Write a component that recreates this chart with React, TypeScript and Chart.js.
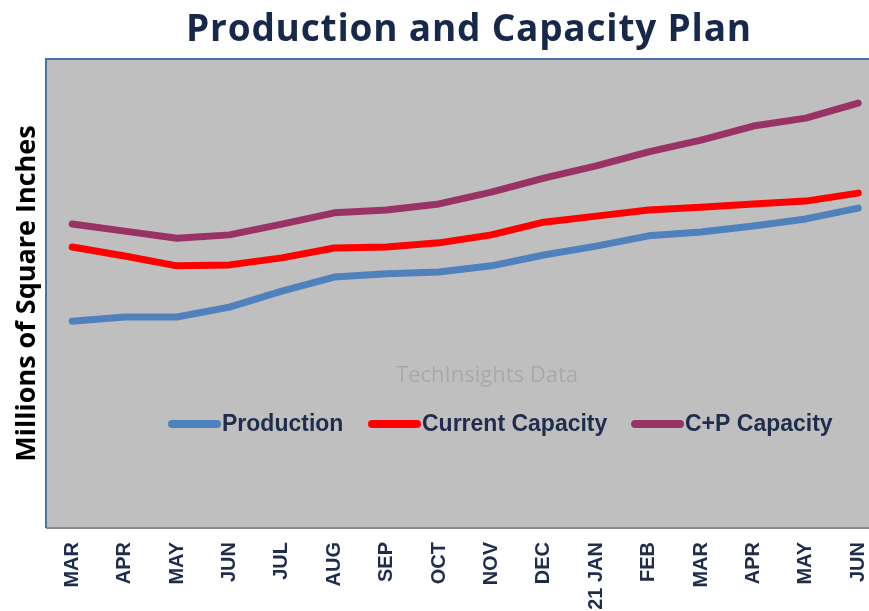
import React, { useEffect, useRef } from "react";
import { Chart, registerables } from "chart.js";

Chart.register(...registerables);

const months = ["MAR", "APR", "MAY", "JUN", "JUL", "AUG", "SEP", "OCT", "NOV", "DEC", "21 JAN", "FEB", "MAR", "APR", "MAY", "JUN"];
const production = [44.1, 45.0, 45.0, 47.1, 50.5, 53.5, 54.2, 54.6, 55.9, 58.2, 60.1, 62.3, 63.1, 64.4, 65.9, 68.2];
const currentCapacity = [59.9, 58.0, 55.9, 56.1, 57.6, 59.7, 59.9, 60.8, 62.5, 65.2, 66.5, 67.8, 68.4, 69.1, 69.7, 71.4];
const cpCapacity = [64.8, 63.3, 61.8, 62.5, 64.8, 67.2, 67.8, 69.1, 71.6, 74.6, 77.2, 80.2, 82.7, 85.7, 87.4, 90.6];
const seriesNames = ["Production", "Current Capacity", "C+P Capacity"];
const seriesColors = ["#4f81bd", "#ff0000", "#993366"];
const titleText = "Production and Capacity Plan";
const yAxisTitle = "Millions of Square Inches";
const watermarkText = "TechInsights Data";

const decorPlugin = {
  id: "decor",
  beforeDraw(chart: any) {
    const { ctx, chartArea: a } = chart;
    ctx.save();
    ctx.fillStyle = "#bfbfbf";
    ctx.fillRect(a.left, a.top, a.right - a.left, a.bottom - a.top);
    // watermark
    ctx.fillStyle = "#a9a9a9";
    ctx.font = "22px 'Open Sans'";
    ctx.textAlign = "center";
    ctx.textBaseline = "middle";
    ctx.fillText(watermarkText, 487, 376);
    // title
    ctx.fillStyle = "#17294a";
    ctx.font = "bold 37px 'Open Sans'";
    try {
      (ctx as any).letterSpacing = "0.8px";
    } catch (e) {}
    ctx.textBaseline = "alphabetic";
    ctx.fillText(titleText, 469, 41);
    try {
      (ctx as any).letterSpacing = "0px";
    } catch (e) {}
    ctx.restore();
  },
  beforeDatasetsDraw(chart: any) {
    const { ctx, chartArea: a } = chart;
    ctx.save();
    ctx.lineWidth = 2;
    ctx.strokeStyle = "#8c8c8c";
    ctx.beginPath();
    ctx.moveTo(a.left, a.bottom);
    ctx.lineTo(a.right, a.bottom);
    ctx.stroke();
    ctx.strokeStyle = "#4a72a8";
    ctx.beginPath();
    ctx.moveTo(a.left, a.bottom);
    ctx.lineTo(a.left, a.top);
    ctx.lineTo(a.right, a.top);
    ctx.stroke();
    // legend
    const starts = [168, 368, 631];
    const y = 424;
    ctx.font = "bold 23px 'Liberation Sans'";
    ctx.textBaseline = "middle";
    ctx.textAlign = "left";
    seriesNames.forEach((name, i) => {
      ctx.strokeStyle = seriesColors[i];
      ctx.lineWidth = 8;
      ctx.lineCap = "round";
      ctx.beginPath();
      ctx.moveTo(starts[i] + 4, y);
      ctx.lineTo(starts[i] + 49, y);
      ctx.stroke();
      ctx.fillStyle = "#1f2d4d";
      ctx.fillText(name, starts[i] + 54, y + 1);
    });
    ctx.restore();
  },
};

export default function App() {
  const ref = useRef<HTMLCanvasElement>(null);
  useEffect(() => {
    if (!ref.current) return;
    Chart.defaults.font.family = "'Liberation Sans'";
    const mk = (label: string, data: number[], color: string) => ({
      label,
      data,
      borderColor: color,
      backgroundColor: color,
      borderWidth: 7,
      pointRadius: 0,
      tension: 0,
      borderCapStyle: "round" as const,
      borderJoinStyle: "round" as const,
    });
    const chart = new Chart(ref.current, {
      type: "line",
      data: {
        labels: months,
        datasets: [
          mk(seriesNames[2], cpCapacity, seriesColors[2]),
          mk(seriesNames[1], currentCapacity, seriesColors[1]),
          mk(seriesNames[0], production, seriesColors[0]),
        ],
      },
      options: {
        animation: false,
        responsive: true,
        maintainAspectRatio: false,
        layout: { padding: { top: 59, right: 15.6, left: 0, bottom: 0 } },
        plugins: { legend: { display: false }, title: { display: false }, tooltip: { enabled: false } },
        scales: {
          x: {
            offset: true,
            grid: { display: false, drawTicks: false },
            border: { display: false },
            ticks: {
              maxRotation: 90,
              minRotation: 90,
              padding: 14,
              color: "#1f2d4d",
              font: { size: 20, weight: "bold" },
              autoSkip: false,
            },
            afterFit: (s: any) => {
              s.height = 83;
            },
          },
          y: {
            min: 0,
            max: 100,
            grid: { display: false, drawTicks: false },
            border: { display: false },
            ticks: { display: false },
            title: {
              display: true,
              text: yAxisTitle,
              color: "#000000",
              font: { family: "'Open Sans'", size: 27, weight: "bold" },
              padding: { top: 11, bottom: 0 },
            },
            afterFit: (s: any) => {
              s.width = 46;
            },
          },
        },
      },
      plugins: [decorPlugin],
    });
    return () => chart.destroy();
  }, []);
  return (
    <div style={{ position: "fixed", left: 0, top: 0, width: 869, height: 611, overflow: "hidden", background: "#fff" }}>
      <div style={{ position: "relative", width: 900, height: 611 }}>
        <canvas ref={ref} />
      </div>
    </div>
  );
}
